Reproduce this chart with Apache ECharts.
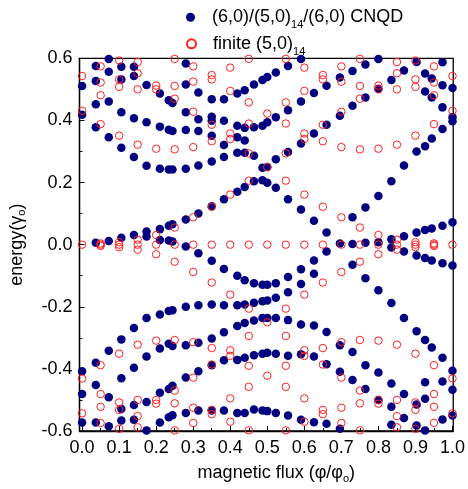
<!DOCTYPE html>
<html>
<head>
<meta charset="utf-8">
<script src="https://cdn.jsdelivr.net/npm/echarts@6/dist/echarts.min.js"></script>
<style>
html,body{margin:0;padding:0;background:#fff;}
#chart{width:468px;height:489px;}
</style>
</head>
<body>
<div id="chart"></div>
<script>
// ---- data ----
const cnqdFlux = [0, 0.037, 0.072, 0.106, 0.14, 0.174, 0.21, 0.234, 0.244, 0.28, 0.314, 0.35, 0.383, 0.419, 0.439, 0.464, 0.487, 0.5, 0.523, 0.556, 0.591, 0.626, 0.66, 0.696, 0.73, 0.765, 0.8, 0.835, 0.869, 0.903, 0.926, 0.944, 0.973, 1.0];
const cnqdEnergy = [
  [0.511, 0.418, -0.408, -0.481, -0.573],
  [0.575, 0.527, 0.452, 0.378, 0.0065, -0.380, -0.452, -0.573],
  [0.598, 0.557, 0.461, 0.346, 0.012, -0.342, -0.491, -0.585],
  [0.573, 0.532, 0.426, 0.312, 0.022, -0.305, -0.430, -0.529, -0.566],
  [0.573, 0.543, 0.407, 0.282, 0.031, -0.268, -0.396, -0.516, -0.564],
  [0.514, 0.394, 0.254, 0.042, 0.026, -0.236, -0.360, -0.507, -0.598],
  [0.487, 0.380, 0.244, 0.050, 0.015, -0.225, -0.334, -0.477, -0.573],
  [0.465, 0.370, 0.242, 0.061, 0.013, -0.214, -0.319, -0.465, -0.556],
  [0.456, 0.366, 0.242, 0.066, 0.010, -0.211, -0.326, -0.454, -0.549],
  [0.583, 0.516, 0.426, 0.369, 0.244, 0.081, -0.006, -0.200, -0.324, -0.428, -0.542],
  [0.490, 0.404, 0.366, 0.255, 0.100, -0.028, -0.195, -0.316, -0.408, -0.534],
  [0.468, 0.412, 0.399, 0.351, 0.268, 0.124, -0.052, -0.193, -0.302, -0.388, -0.534],
  [0.468, 0.399, 0.321, 0.282, 0.146, -0.078, -0.195, -0.282, -0.372, -0.534],
  [0.487, 0.383, 0.346, 0.296, 0.170, -0.100, -0.195, -0.262, -0.371, -0.542],
  [0.497, 0.376, 0.335, 0.296, 0.186, -0.115, -0.193, -0.252, -0.364, -0.542],
  [0.516, 0.378, 0.286, 0.204, -0.124, -0.187, -0.244, -0.356, -0.531],
  [0.530, 0.383, 0.248, 0.207, -0.129, -0.182, -0.236, -0.351, -0.534],
  [0.540, 0.394, 0.250, 0.199, -0.129, -0.180, -0.236, -0.348, -0.536],
  [0.554, 0.410, 0.275, 0.183, -0.124, -0.171, -0.236, -0.351, -0.542],
  [0.575, 0.433, 0.298, 0.146, -0.104, -0.153, -0.243, -0.358, -0.550],
  [0.598, 0.461, 0.326, 0.113, -0.079, -0.127, -0.257, -0.353, -0.564],
  [0.488, 0.358, 0.077, -0.051, -0.094, -0.260, -0.360, -0.572],
  [0.512, 0.386, 0.039, -0.022, -0.281, -0.385, -0.577],
  [0.538, 0.415, 0.004, -0.324, -0.409, -0.593],
  [0.559, 0.447, 0.088, 0.002, -0.065, -0.346, -0.436],
  [0.580, 0.474, 0.120, 0.006, -0.108, -0.388, -0.465],
  [0.598, 0.502, 0.157, 0.008, -0.147, -0.412, -0.500],
  [0.530, 0.204, 0.017, -0.009, -0.188, -0.447, -0.522, -0.580],
  [0.561, 0.255, 0.027, -0.022, -0.236, -0.481, -0.558],
  [0.588, 0.300, 0.039, -0.035, -0.279, -0.515, -0.582],
  [0.551, 0.493, 0.317, 0.047, -0.043, -0.307, -0.443, -0.496, -0.598],
  [0.535, 0.474, 0.342, 0.052, -0.051, -0.331],
  [0.587, 0.513, 0.442, 0.372, 0.061, -0.060, -0.364, -0.441, -0.563],
  [0.504, 0.410, 0.397, 0.072, -0.067, -0.406, -0.467, -0.550]
];

const finiteFlux = [0, 0.05, 0.1, 0.15, 0.2, 0.25, 0.3, 0.35, 0.4, 0.45, 0.5, 0.55, 0.6, 0.65, 0.7, 0.75, 0.8, 0.85, 0.9, 0.95, 1.0];
const finiteEnergy = [
  [0.543, 0.431, 0, -0.431, -0.543],
  [0.574, 0.522, 0.481, 0.388, 0.004, 0, -0.004, -0.388, -0.481, -0.522, -0.574],
  [0.593, 0.532, 0.508, 0.351, 0.008, 0, -0.008, -0.351, -0.508, -0.532, -0.593],
  [0.588, 0.552, 0.500, 0.322, 0.016, 0, -0.016, -0.322, -0.500, -0.552, -0.588],
  [0.512, 0.500, 0.309, 0.031, 0, -0.031, -0.309, -0.500, -0.512],
  [0.598, 0.511, 0.470, 0.307, 0.055, 0, -0.055, -0.307, -0.470, -0.511, -0.598],
  [0.574, 0.525, 0.428, 0.314, 0.088, 0, -0.088, -0.314, -0.428, -0.525, -0.574],
  [0.546, 0.532, 0.386, 0.333, 0.122, 0, -0.122, -0.333, -0.386, -0.532, -0.546],
  [0.570, 0.495, 0.358, 0.340, 0.161, 0, -0.161, -0.340, -0.358, -0.495, -0.570],
  [0.598, 0.458, 0.390, 0.294, 0.206, 0, -0.206, -0.294, -0.390, -0.458, -0.598],
  [0.422, 0.250, 0, -0.250, -0.422],
  [0.598, 0.458, 0.390, 0.294, 0.206, 0, -0.206, -0.294, -0.390, -0.458, -0.598],
  [0.570, 0.495, 0.358, 0.340, 0.161, 0, -0.161, -0.340, -0.358, -0.495, -0.570],
  [0.546, 0.532, 0.386, 0.333, 0.122, 0, -0.122, -0.333, -0.386, -0.532, -0.546],
  [0.574, 0.525, 0.428, 0.314, 0.088, 0, -0.088, -0.314, -0.428, -0.525, -0.574],
  [0.598, 0.511, 0.470, 0.307, 0.055, 0, -0.055, -0.307, -0.470, -0.511, -0.598],
  [0.512, 0.500, 0.309, 0.031, 0, -0.031, -0.309, -0.500, -0.512],
  [0.588, 0.552, 0.500, 0.322, 0.016, 0, -0.016, -0.322, -0.500, -0.552, -0.588],
  [0.593, 0.532, 0.508, 0.351, 0.008, 0, -0.008, -0.351, -0.508, -0.532, -0.593],
  [0.574, 0.522, 0.481, 0.388, 0.004, 0, -0.004, -0.388, -0.481, -0.522, -0.574],
  [0.543, 0.431, 0, -0.431, -0.543]
];

const xTickLabels = [0, 0.1, 0.2, 0.3, 0.4, 0.5, 0.6, 0.7, 0.8, 0.9, 1.0];
const xMinorTicks = [0.05, 0.15, 0.25, 0.35, 0.45, 0.55, 0.65, 0.75, 0.85, 0.95];

// ---- build series data ----
function pairs(fluxes, energies) {
  const out = [];
  fluxes.forEach((x, i) => energies[i].forEach(e => out.push([x, e])));
  return out;
}
const cnqdData = pairs(cnqdFlux, cnqdEnergy);
const finiteData = pairs(finiteFlux, finiteEnergy);

const FONT = '"Liberation Sans", Arial, Helvetica, sans-serif';
const subStyle = { fontSize: 11, fontFamily: FONT, color: '#000', padding: [16, 0, 0, 0] };

const chart = echarts.init(document.getElementById('chart'), null, { renderer: 'canvas' });
chart.setOption({
  animation: false,
  backgroundColor: '#fff',
  grid: {
    left: 78.4, right: 13.7, top: 58.3, bottom: 55.6,
    show: true, borderColor: '#000', borderWidth: 1.3, backgroundColor: 'transparent'
  },
  legend: [
    {
      data: ['cnqd'], left: 181, top: 3.2, orient: 'vertical',
      itemWidth: 9, itemHeight: 9, selectedMode: false,
      formatter: () => '(6,0)/(5,0){sub|14}/(6,0) CNQD',
      textStyle: { fontSize: 18, fontFamily: FONT, color: '#000', padding: [0, 0, 0, 12], rich: { sub: subStyle } }
    },
    {
      data: ['finite'], left: 181, top: 29.8, orient: 'vertical',
      itemWidth: 9, itemHeight: 9, selectedMode: false,
      formatter: () => 'finite (5,0){sub|14}',
      textStyle: { fontSize: 18, fontFamily: FONT, color: '#000', padding: [0, 0, 0, 12], rich: { sub: subStyle } }
    }
  ],
  xAxis: [
    {
      type: 'value', min: -0.007, max: 1.002,
      name: 'magnetic flux (\u03c6/\u03c6{sub|o})',
      nameLocation: 'middle', nameGap: 32,
      nameTextStyle: { fontSize: 18, fontFamily: FONT, color: '#000', padding: [0, 0, 0, 20],
        rich: { sub: { fontSize: 11, fontFamily: FONT, color: '#000', padding: [10, 0, 0, 0] } } },
      axisLine: { show: true, onZero: false, lineStyle: { color: '#000', width: 1.3 } },
      axisTick: { show: true, inside: true, length: 5, customValues: xTickLabels, lineStyle: { color: '#000', width: 1 } },
      axisLabel: { customValues: xTickLabels, formatter: v => Number(v).toFixed(1),
        fontSize: 18, fontFamily: FONT, color: '#000', margin: 8 },
      splitLine: { show: false }
    },
    {
      type: 'value', min: -0.007, max: 1.002, position: 'bottom',
      axisLine: { show: false, onZero: false },
      axisTick: { show: true, inside: true, length: 3, customValues: xMinorTicks, lineStyle: { color: '#000', width: 1 } },
      axisLabel: { show: false },
      splitLine: { show: false }
    }
  ],
  yAxis: {
    type: 'value', min: -0.6, max: 0.6, interval: 0.2,
    name: 'energy(\u03b3{sub|o})',
    nameLocation: 'middle', nameGap: 52,
    nameTextStyle: { fontSize: 18, fontFamily: FONT, color: '#000',
      rich: { sub: { fontSize: 11, fontFamily: FONT, color: '#000', padding: [10, 0, 0, 0] } } },
    axisLine: { show: true, onZero: false, lineStyle: { color: '#000', width: 1.3 } },
    axisTick: { show: true, inside: true, length: 5, lineStyle: { color: '#000', width: 1 } },
    minorTick: { show: true, splitNumber: 2, length: 3, lineStyle: { color: '#000', width: 1 } },
    axisLabel: { formatter: v => Number(v).toFixed(1), fontSize: 18, fontFamily: FONT, color: '#000', margin: 7 },
    splitLine: { show: false },
    minorSplitLine: { show: false }
  },
  series: [
    {
      name: 'cnqd', type: 'scatter', xAxisIndex: 0, data: cnqdData,
      symbol: 'circle', symbolSize: 8.5,
      itemStyle: { color: '#000080', opacity: 1 }, z: 2
    },
    {
      name: 'finite', type: 'scatter', xAxisIndex: 0, data: finiteData,
      symbol: 'circle', symbolSize: 7.5,
      itemStyle: { color: 'rgba(255,255,255,0)', borderColor: '#ff2020', borderWidth: 1, opacity: 1 }, z: 3
    }
  ]
});
</script>
</body>
</html>
